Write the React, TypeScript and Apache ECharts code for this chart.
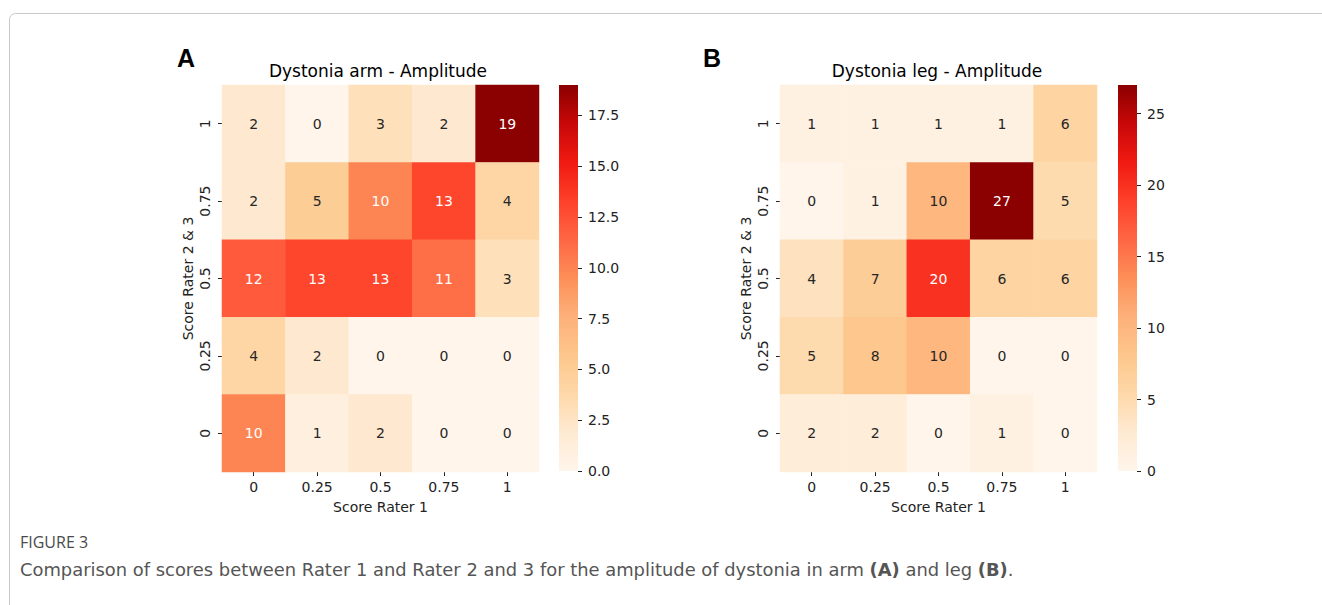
import React, { useEffect, useRef } from "react";
import * as echarts from "echarts";

// ---- data ----
const xCategories = ["0", "0.25", "0.5", "0.75", "1"];
const yCategories = ["0", "0.25", "0.5", "0.75", "1"]; // bottom -> top

// rows listed from top (score 1) to bottom (score 0)
const armRows = [
  [2, 0, 3, 2, 19],
  [2, 5, 10, 13, 4],
  [12, 13, 13, 11, 3],
  [4, 2, 0, 0, 0],
  [10, 1, 2, 0, 0],
];
const legRows = [
  [1, 1, 1, 1, 6],
  [0, 1, 10, 27, 5],
  [4, 7, 20, 6, 6],
  [5, 8, 10, 0, 0],
  [2, 2, 0, 1, 0],
];
const armMax = 19;
const legMax = 27;
const armTicks = [0, 2.5, 5, 7.5, 10, 12.5, 15, 17.5];
const legTicks = [0, 5, 10, 15, 20, 25];

const titleA = "Dystonia arm - Amplitude";
const titleB = "Dystonia leg - Amplitude";
const xName = "Score Rater 1";
const yName = "Score Rater 2 & 3";
const captionHead = "FIGURE 3";

const cmap = [
  "#fff5eb", "#feead2", "#fed8a8", "#fdc68c", "#fdb07a", "#fd8f58",
  "#fe6644", "#fe4029", "#f01a12", "#c80808", "#8b0000",
];

const FONT = '"DejaVu Sans", sans-serif';
const TXT = "#222222";

function buildData(rows: number[][], max: number) {
  const out: any[] = [];
  rows.forEach((row, r) => {
    row.forEach((v, c) => {
      out.push({
        value: [c, yCategories.length - 1 - r, v],
        label: { color: v / max > 0.45 ? "#ffffff" : "#262626" },
      });
    });
  });
  return out;
}

function gradient() {
  return new echarts.graphic.LinearGradient(
    0, 1, 0, 0,
    cmap.map((c, i) => ({ offset: i / (cmap.length - 1), color: c }))
  );
}

export default function App() {
  const ref = useRef<HTMLDivElement>(null);
  useEffect(() => {
    if (!ref.current) return;
    const chart = echarts.init(ref.current, null, { renderer: "svg" });

    const heatTop = 85;
    const heatH = 387;
    const heatW = 317;
    const gridAL = 222;
    const gridBL = 780;
    const cbAL = 559;
    const cbBL = 1118;
    const cbW = 19;

    const catX = (gi: number) => ({
      type: "category",
      gridIndex: gi,
      data: xCategories,
      position: "bottom",
      axisLine: { show: false },
      axisTick: { show: true, alignWithLabel: true, length: 4, lineStyle: { color: TXT } },
      axisLabel: { fontSize: 14, fontFamily: FONT, color: TXT, margin: 8 },
      splitLine: { show: false },
      name: xName,
      nameLocation: "middle",
      nameGap: 28,
      nameTextStyle: { fontSize: 14, fontFamily: FONT, color: TXT },
    });
    const catY = (gi: number) => ({
      type: "category",
      gridIndex: gi,
      data: yCategories,
      axisLine: { show: false },
      axisTick: { show: true, alignWithLabel: true, length: 4, lineStyle: { color: TXT } },
      axisLabel: { fontSize: 14, fontFamily: FONT, color: TXT, rotate: 90, margin: 10 },
      splitLine: { show: false },
      name: yName,
      nameLocation: "middle",
      nameRotate: 90,
      nameGap: 27,
      nameTextStyle: { fontSize: 14, fontFamily: FONT, color: TXT },
    });
    const cbX = (gi: number) => ({
      type: "value", gridIndex: gi, min: 0, max: 1, show: false,
    });
    const cbY = (gi: number, max: number, ticks: number[], dec: number) => ({
      type: "value",
      gridIndex: gi,
      min: 0,
      max,
      position: "left",
      offset: -cbW,
      z: 5,
      axisLine: { show: false },
      splitLine: { show: false },
      axisTick: { show: true, inside: true, length: 4, lineStyle: { color: TXT, width: 1 }, customValues: ticks },
      axisLabel: {
        inside: true,
        fontSize: 14, fontFamily: FONT, color: TXT, margin: 10,
        customValues: ticks,
        formatter: (v: number) => v.toFixed(dec),
      },
    });

    const cbRender = (params: any, api: any) => {
      const cs = params.coordSys;
      const top = api.coord([0, api.value(1)])[1];
      const bottom = api.coord([0, api.value(0)])[1];
      return {
        type: "rect",
        shape: { x: cs.x, y: top, width: cs.width, height: bottom - top },
        style: { fill: gradient() },
      };
    };

    const heatLabel = {
      show: true,
      fontSize: 14,
      fontFamily: FONT,
      formatter: (p: any) => String(p.value[2]),
    };

    chart.setOption({
      animation: false,
      backgroundColor: "#ffffff",
      grid: [
        { left: gridAL, top: heatTop, width: heatW, height: heatH },
        { left: cbAL, top: heatTop, width: cbW, height: 386 },
        { left: gridBL, top: heatTop, width: heatW, height: heatH },
        { left: cbBL, top: heatTop, width: cbW, height: 386 },
      ],
      xAxis: [catX(0), cbX(1), catX(2), cbX(3)],
      yAxis: [catY(0), cbY(1, armMax, armTicks, 1), catY(2), cbY(3, legMax, legTicks, 0)],
      visualMap: [
        { type: "continuous", show: false, min: 0, max: armMax, seriesIndex: 0, inRange: { color: cmap } },
        { type: "continuous", show: false, min: 0, max: legMax, seriesIndex: 2, inRange: { color: cmap } },
      ],
      series: [
        {
          type: "heatmap", xAxisIndex: 0, yAxisIndex: 0,
          data: buildData(armRows, armMax), label: heatLabel,
          emphasis: { disabled: true },
        },
        {
          type: "custom", xAxisIndex: 1, yAxisIndex: 1, z: -1,
          data: [[0, armMax]], renderItem: cbRender, silent: true,
        },
        {
          type: "heatmap", xAxisIndex: 2, yAxisIndex: 2,
          data: buildData(legRows, legMax), label: heatLabel,
          emphasis: { disabled: true },
        },
        {
          type: "custom", xAxisIndex: 3, yAxisIndex: 3, z: -1,
          data: [[0, legMax]], renderItem: cbRender, silent: true,
        },
      ],
      graphic: [
        {
          type: "rect", z: -10, silent: true,
          shape: { x: 9.5, y: 13.5, width: 1400, height: 700, r: 6 },
          style: { fill: "none", stroke: "#c8c8c8", lineWidth: 1 },
        },
        {
          type: "text", x: 186, y: 58,
          style: { text: "A", font: 'bold 25px "Liberation Sans", Arial, sans-serif', fill: "#000", textAlign: "center", textVerticalAlign: "middle" },
        },
        {
          type: "text", x: 712, y: 58,
          style: { text: "B", font: 'bold 25px "Liberation Sans", Arial, sans-serif', fill: "#000", textAlign: "center", textVerticalAlign: "middle" },
        },
        {
          type: "text", x: 378, y: 71,
          style: { text: titleA, font: '17px "DejaVu Sans", sans-serif', fill: "#000", textAlign: "center", textVerticalAlign: "middle" },
        },
        {
          type: "text", x: 937, y: 71,
          style: { text: titleB, font: '17px "DejaVu Sans", sans-serif', fill: "#000", textAlign: "center", textVerticalAlign: "middle" },
        },
        {
          type: "text", x: 20, y: 542,
          style: { text: captionHead, font: '16px "Open Sans", sans-serif', fill: "#4a4a4a", textVerticalAlign: "middle" },
        },
        {
          type: "text", x: 20, y: 569,
          style: {
            text: "Comparison of scores between Rater 1 and Rater 2 and 3 for the amplitude of dystonia in arm {b|(A)} and leg {b|(B)}.",
            font: '17.9px "DejaVu Sans", sans-serif',
            fill: "#555555",
            textVerticalAlign: "middle",
            rich: { b: { fontWeight: "bold", fontSize: 17.9, fontFamily: '"DejaVu Sans", sans-serif', fill: "#555555", color: "#555555" } },
          },
        },
      ],
    });
    return () => chart.dispose();
  }, []);
  return (
    <div
      ref={ref}
      style={{ position: "absolute", left: 0, top: 0, width: 1322, height: 605, background: "#fff" }}
    />
  );
}
